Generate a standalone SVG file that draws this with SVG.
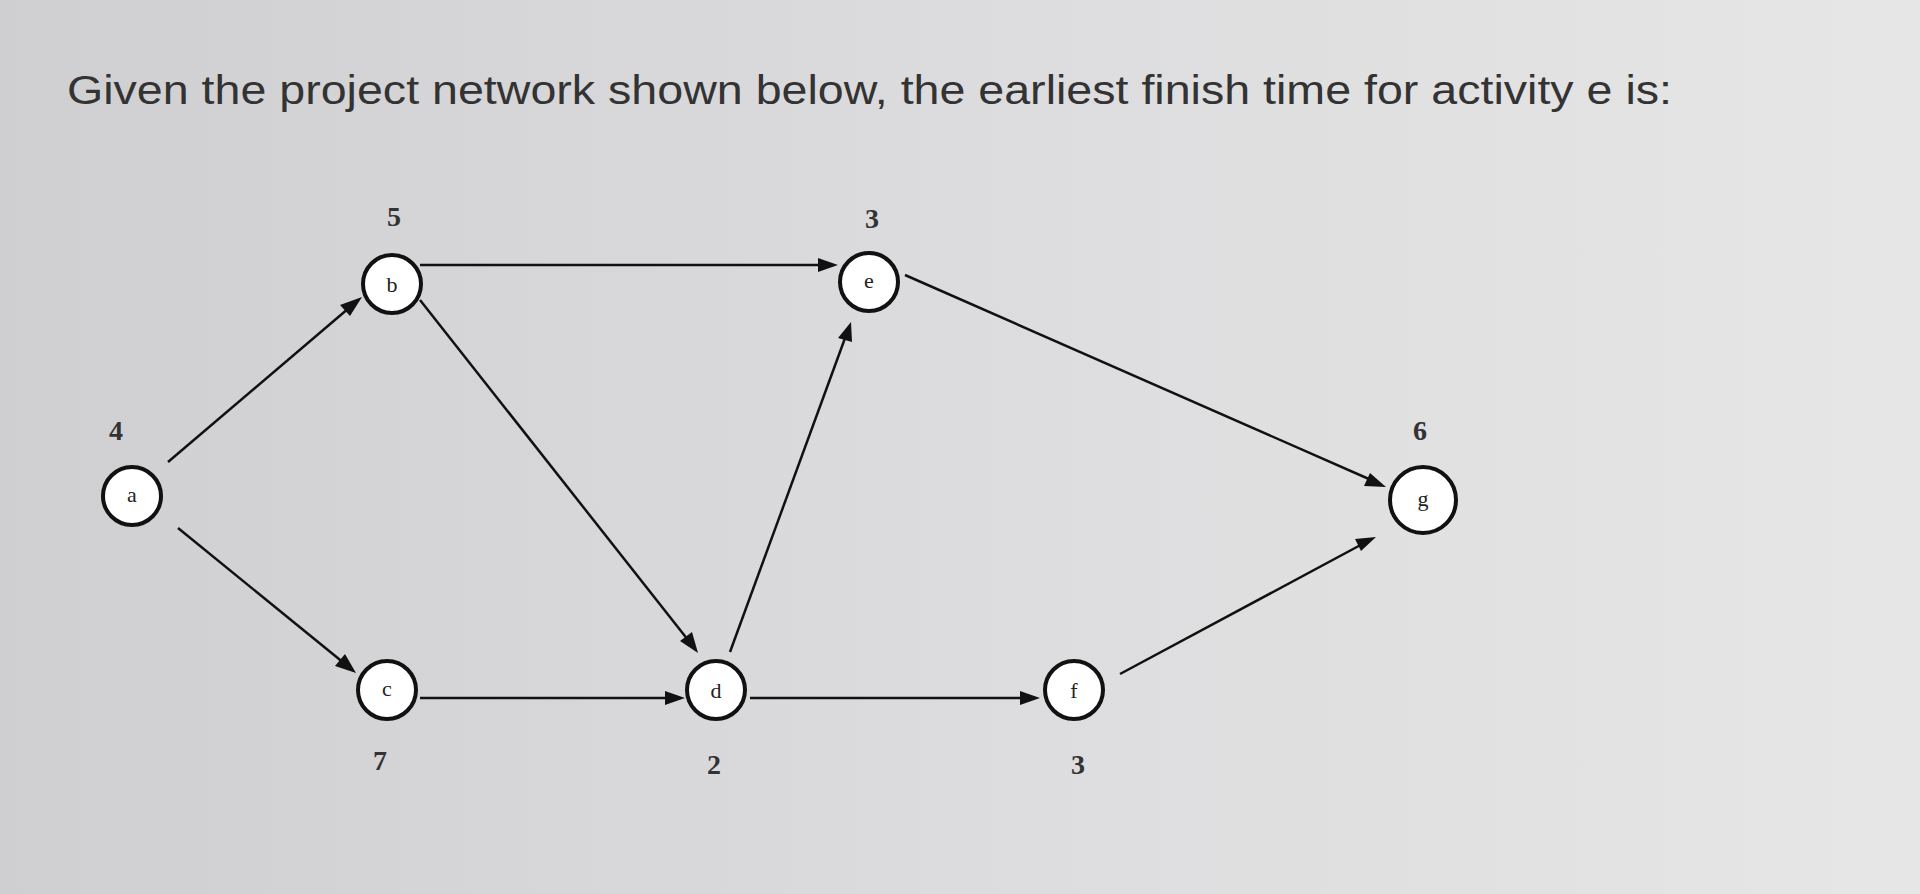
<svg xmlns="http://www.w3.org/2000/svg" width="1920" height="894" viewBox="0 0 1920 894">
<defs>
<linearGradient id="bg" x1="0" y1="0" x2="1" y2="0"><stop offset="0" stop-color="#cfcfd1"/><stop offset="0.5" stop-color="#dcdcde"/><stop offset="1" stop-color="#e6e6e6"/></linearGradient>
<style>
.n circle{fill:#fff;stroke:#111;stroke-width:4}
.n text{font-family:"Liberation Serif",serif;font-size:22px;fill:#222;text-anchor:middle}
.lbl{font-family:"Liberation Serif",serif;font-size:28px;font-weight:bold;fill:#333;text-anchor:middle}
#edges line{stroke:#111;stroke-width:2.5}
#edges polygon{fill:#111}
</style>
</defs>
<rect width="1920" height="894" fill="url(#bg)"/>
<text x="67" y="104" font-family="Liberation Sans, Arial, sans-serif" font-size="40" fill="#333" textLength="1605" lengthAdjust="spacingAndGlyphs">Given the project network shown below, the earliest finish time for activity e is:</text>
<g id="edges">
<line x1="168" y1="462" x2="356" y2="302"/>
<polygon points="362,297 340,305 350,316"/>
<line x1="178" y1="528" x2="350" y2="668"/>
<polygon points="356,673 335,666 345,654"/>
<line x1="420" y1="265" x2="830" y2="265"/>
<polygon points="838,265 818,258 818,272"/>
<line x1="420" y1="300" x2="692" y2="645"/>
<polygon points="698,653 692,632 680,641"/>
<line x1="420" y1="698" x2="675" y2="698"/>
<polygon points="685,698 665,691 665,705"/>
<line x1="730" y1="652" x2="848" y2="330"/>
<polygon points="851,322 838,338 852,342"/>
<line x1="750" y1="698" x2="1030" y2="698"/>
<polygon points="1040,698 1020,691 1020,705"/>
<line x1="905" y1="275" x2="1378" y2="483"/>
<polygon points="1386,487 1370,473 1364,486"/>
<line x1="1120" y1="674" x2="1368" y2="541"/>
<polygon points="1376,537 1355,539 1361,551"/>
</g>
<g id="node-a" class="n"><circle cx="132" cy="496" r="29"/><text x="132" y="502" font-size="16">a</text></g>
<g id="node-b" class="n"><circle cx="392" cy="284" r="29"/><text x="392" y="292">b</text></g>
<g id="node-e" class="n"><circle cx="869" cy="282" r="29"/><text x="869" y="288" font-size="17">e</text></g>
<g id="node-c" class="n"><circle cx="387" cy="690" r="29"/><text x="387" y="696" font-size="17">c</text></g>
<g id="node-d" class="n"><circle cx="716" cy="690" r="29"/><text x="716" y="698">d</text></g>
<g id="node-f" class="n"><circle cx="1074" cy="690" r="29"/><text x="1074" y="698">f</text></g>
<g id="node-g" class="n"><circle cx="1423" cy="500" r="33"/><text x="1423" y="506">g</text></g>
<g id="labels">
<text class="lbl" x="394" y="226">5</text>
<text class="lbl" x="872" y="228">3</text>
<text class="lbl" x="116" y="440">4</text>
<text class="lbl" x="1420" y="440">6</text>
<text class="lbl" x="380" y="770">7</text>
<text class="lbl" x="714" y="774">2</text>
<text class="lbl" x="1078" y="774">3</text>
</g>
</svg>
